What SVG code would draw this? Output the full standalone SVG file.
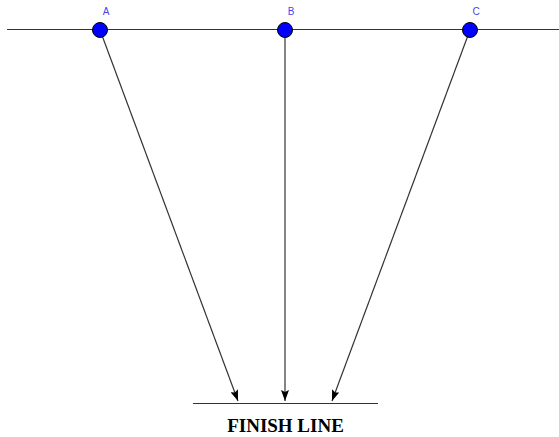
<svg xmlns="http://www.w3.org/2000/svg" width="559" height="437" viewBox="0 0 559 437">
<style>
.ln{stroke:#333;stroke-width:1.2;fill:none}
.pt{fill:#0000ff;stroke:#000;stroke-width:1}
.lbl{font-family:"Liberation Sans",Arial,sans-serif;font-size:10px;fill:#4444ee;text-anchor:middle}
.fin{font-family:"Liberation Serif","Times New Roman",serif;font-size:19px;font-weight:bold;fill:#000;text-anchor:middle}
</style>
<defs>
<marker id="ah" markerWidth="12" markerHeight="8" refX="11" refY="4" orient="auto" markerUnits="userSpaceOnUse">
<path d="M0,0 L11,4 L0,8 L2,4 Z" fill="#000"/>
</marker>
</defs>
<rect width="559" height="437" fill="#fff"/>
<g id="baseline"><line class="ln" x1="7" y1="29.5" x2="559" y2="29.5"/></g>
<g id="finish"><line class="ln" x1="193" y1="403.5" x2="378" y2="403.5"/>
<text class="fin" x="285.5" y="432">FINISH LINE</text></g>
<g id="connectors">
<line class="ln" x1="100" y1="30" x2="238" y2="401" marker-end="url(#ah)"/>
<line class="ln" x1="285" y1="30" x2="285" y2="401" marker-end="url(#ah)"/>
<line class="ln" x1="470" y1="30" x2="332" y2="401" marker-end="url(#ah)"/>
</g>
<g id="A"><circle class="pt" cx="100" cy="30" r="7.5"/><text class="lbl" x="106" y="15">A</text></g>
<g id="B"><circle class="pt" cx="285" cy="30" r="7.5"/><text class="lbl" x="291" y="15">B</text></g>
<g id="C"><circle class="pt" cx="470" cy="30" r="7.5"/><text class="lbl" x="476" y="15">C</text></g>
</svg>
